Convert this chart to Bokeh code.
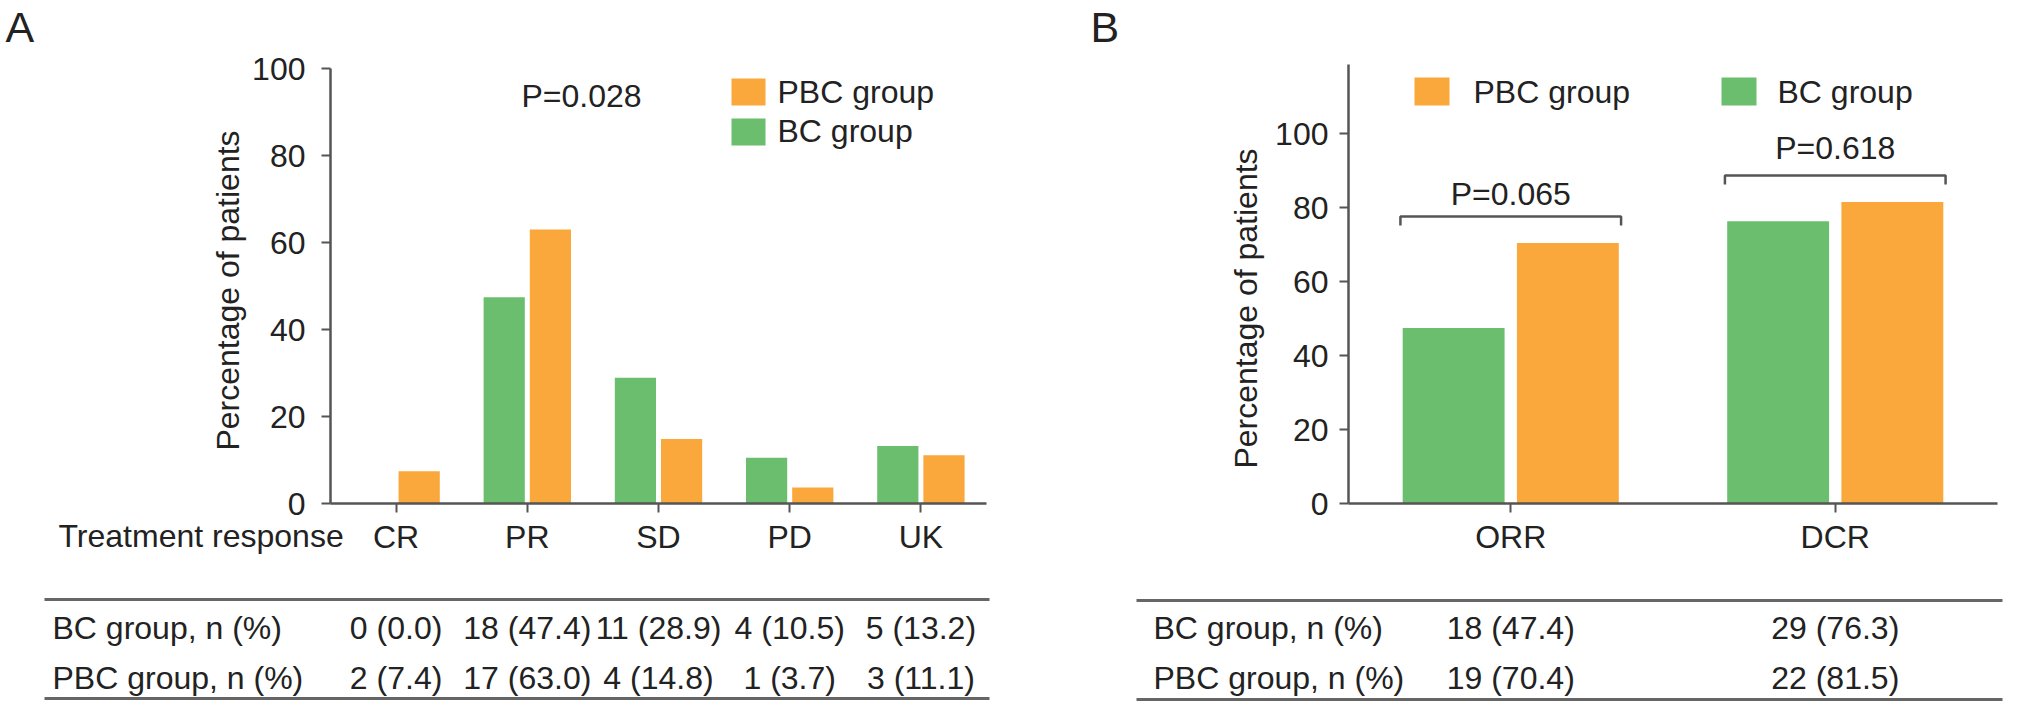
import math
from bokeh.plotting import figure
from bokeh.layouts import row
from bokeh.models import Range1d, FixedTicker, LinearAxis, ColumnDataSource
from bokeh.core.properties import value
from bokeh.embed import file_html
from bokeh.resources import INLINE

# ---------------- data ----------------
response_categories = ["CR", "PR", "SD", "PD", "UK"]
bc_response_n = [0, 18, 11, 4, 5]
bc_response_pct = [0.0, 47.4, 28.9, 10.5, 13.2]
pbc_response_n = [2, 17, 4, 1, 3]
pbc_response_pct = [7.4, 63.0, 14.8, 3.7, 11.1]
p_value_response = "P=0.028"

rate_categories = ["ORR", "DCR"]
bc_rate_n = [18, 29]
bc_rate_pct = [47.4, 76.3]
pbc_rate_n = [19, 22]
pbc_rate_pct = [70.4, 81.5]
p_values_rates = ["P=0.065", "P=0.618"]

y_ticks = [0, 20, 40, 60, 80, 100]
series_names = ["PBC group", "BC group"]
table_row_labels = ["BC group, n (%)", "PBC group, n (%)"]
y_axis_title = "Percentage of patients"
x_axis_title_a = "Treatment response"
panel_letters = ["A", "B"]

# ---------------- style / layout (window pixels) ----------------
FONT_NAME = "Liberation Sans"
FONT = value(FONT_NAME)
FS = "32px"
TXT = "#222222"
AX = "#555555"
TBL = "#666666"
ORANGE = "#FAA73B"
GREEN = "#6BBE6E"

M = 8
TOTAL_W, TOTAL_H = 2016, 705
COL_A_W = 1080
ZERO_Y = 511
BAR_W = 0.314
OFF = 0.176


def text(p, x, y, t, size=FS, align="left", angle=0.0):
    p.text(x=x, y=y, text=t, text_font=FONT, text_font_size=size, text_color=TXT,
           text_align=align, text_baseline="middle", angle=angle)


def make_panel(cats, bc, pbc, fig_left, fig_w, frame_l, frame_r, ppu, top_px,
               tick_standoff):
    u = (frame_r - frame_l) / len(cats)
    X = lambda px: (px - frame_l) / u
    Y = lambda py: (ZERO_Y - py) / ppu
    p = figure(width=fig_w, height=TOTAL_H,
               x_range=Range1d(X(fig_left), X(fig_left + fig_w)),
               y_range=Range1d(Y(M + TOTAL_H), Y(M)),
               x_axis_type=None, y_axis_type=None, min_border=0,
               toolbar_location=None, output_backend="svg")
    p.outline_line_color = None

    centers = [i + 0.5 for i in range(len(cats))]
    src = ColumnDataSource(dict(
        x_bc=[c - OFF for c in centers], x_pbc=[c + OFF for c in centers],
        bc=bc, pbc=pbc))
    p.vbar(x="x_bc", top="bc", width=BAR_W, source=src, fill_color=GREEN, line_color=None)
    p.vbar(x="x_pbc", top="pbc", width=BAR_W, source=src, fill_color=ORANGE, line_color=None)

    yax = LinearAxis(fixed_location=0, bounds=(0, Y(top_px)),
                     ticker=FixedTicker(ticks=y_ticks, minor_ticks=[]))
    xax = LinearAxis(fixed_location=0, bounds=(0, len(cats)),
                     ticker=FixedTicker(ticks=centers, minor_ticks=[]),
                     major_label_overrides={c: lab for c, lab in zip(centers, cats)})
    for ax in (yax, xax):
        ax.axis_line_color = AX
        ax.axis_line_width = 2.5
        ax.major_tick_line_color = AX
        ax.major_tick_line_width = 2
        ax.major_tick_out = 9
        ax.major_tick_in = 0
        ax.minor_tick_out = 0
        ax.minor_tick_in = 0
        ax.major_label_text_font = FONT_NAME
        ax.major_label_text_font_size = FS
        ax.major_label_text_color = TXT
    yax.major_label_standoff = tick_standoff
    xax.major_label_standoff = 6
    p.add_layout(yax, "left")
    p.add_layout(xax, "below")
    return p, X, Y, centers


def add_table(p, X, Y, centers, bc_n, bc_pct, pbc_n, pbc_pct, line_l, line_r, label_l,
              line_top, line_bot):
    ly = [Y(line_top), Y(line_bot)]
    p.segment(x0=[X(line_l)] * 2, x1=[X(line_r)] * 2, y0=ly, y1=ly,
              line_color=TBL, line_width=3)
    row_y = [Y(635), Y(685)]
    text(p, [X(label_l)] * 2, row_y, table_row_labels)
    xs, ys, txt = [], [], []
    for r, (ns, ps) in enumerate([(bc_n, bc_pct), (pbc_n, pbc_pct)]):
        for c, n, pc in zip(centers, ns, ps):
            xs.append(c)
            ys.append(row_y[r])
            txt.append(f"{n} ({pc:.1f})")
    text(p, xs, ys, txt, align="center")


# ---------------- panel A ----------------
pA, XA, YA, cA = make_panel(response_categories, bc_response_pct, pbc_response_pct,
                            M, COL_A_W, 338, 994, (ZERO_Y - 76) / 100.0, 76, 16)
text(pA, [XA(13)], [YA(34)], [panel_letters[0]], size="43px")
text(pA, [XA(235)], [YA(298)], [y_axis_title], align="center", angle=math.pi / 2)
text(pA, [XA(66)], [YA(543.5)], [x_axis_title_a])
text(pA, [XA(589)], [YA(103)], [p_value_response], align="center")
pA.quad(left=[XA(739)] * 2, right=[XA(773)] * 2, top=[YA(86), YA(126)],
        bottom=[YA(113), YA(153)], fill_color=[ORANGE, GREEN], line_color=None)
text(pA, [XA(785)] * 2, [YA(99.5), YA(138.5)], series_names)
add_table(pA, XA, YA, cA, bc_response_n, bc_response_pct, pbc_response_n,
          pbc_response_pct, 52, 997, 60, 607, 706)

# ---------------- panel B ----------------
B_W = TOTAL_W - COL_A_W
pB, XB, YB, cB = make_panel(rate_categories, bc_rate_pct, pbc_rate_pct,
                            M + COL_A_W, B_W, 1356, 2005, 3.70, 72, 11)
text(pB, [XB(1098)], [YB(34)], [panel_letters[1]], size="43px")
text(pB, [XB(1253)], [YB(316)], [y_axis_title], align="center", angle=math.pi / 2)

bracket_px = [224, 183]
half = 0.34
drop = 9 / 3.70
bxs, bys = [], []
for c, bp in zip(cB, bracket_px):
    h = YB(bp)
    bxs.append([c - half, c - half, c + half, c + half])
    bys.append([h - drop, h, h, h - drop])
pB.multi_line(xs=bxs, ys=bys, line_color=AX, line_width=2.5)
text(pB, cB, [YB(201), YB(155)], p_values_rates, align="center")
pB.quad(left=[XB(1422), XB(1729)], right=[XB(1457), XB(1764)], top=[YB(85)] * 2,
        bottom=[YB(113)] * 2, fill_color=[ORANGE, GREEN], line_color=None)
text(pB, [XB(1481), XB(1785)], [YB(99.5)] * 2, series_names)
add_table(pB, XB, YB, cB, bc_rate_n, bc_rate_pct, pbc_rate_n, pbc_rate_pct,
          1144, 2010, 1161, 608, 707)

layout = row(pA, pB)
open("out.html", "w").write(file_html(layout, INLINE))
